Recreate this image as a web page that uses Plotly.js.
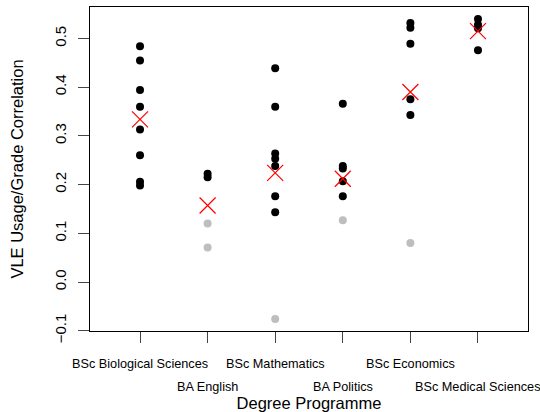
<!DOCTYPE html>
<html>
<head>
<meta charset="utf-8">
<script src="https://cdn.plot.ly/plotly-3.0.1.min.js"></script>
<style>html,body{margin:0;padding:0;background:#fff;}#chart{width:540px;height:412px;}</style>
</head>
<body>
<div id="chart"></div>
<script>
var programmes = ["BSc Biological Sciences","BA English","BSc Mathematics","BA Politics","BSc Economics","BSc Medical Sciences"];
// significant correlations (black)
var sigBio = [0.484,0.455,0.394,0.360,0.313,0.260,0.206,0.198];
var sigEnglish = [0.222,0.215];
var sigMaths = [0.439,0.360,0.264,0.253,0.238,0.176,0.143];
var sigPolitics = [0.366,0.238,0.233,0.207,0.176];
var sigEconomics = [0.532,0.522,0.489,0.375,0.343];
var sigMedical = [0.540,0.528,0.521,0.476];
// non-significant correlations (grey)
var nsBio = [];
var nsEnglish = [0.120,0.071];
var nsMaths = [-0.076];
var nsPolitics = [0.127];
var nsEconomics = [0.080];
var nsMedical = [];
// programme means (red crosses)
var means = [0.334,0.157,0.224,0.212,0.390,0.515];

var sigGroups = [sigBio,sigEnglish,sigMaths,sigPolitics,sigEconomics,sigMedical];
var nsGroups = [nsBio,nsEnglish,nsMaths,nsPolitics,nsEconomics,nsMedical];
function flatten(groups){
  var xs=[], ys=[];
  groups.forEach(function(g,i){ g.forEach(function(v){ xs.push(i+1); ys.push(v); }); });
  return {x:xs,y:ys};
}
var sig = flatten(sigGroups), ns = flatten(nsGroups);
var idx = programmes.map(function(_,i){return i+1;});
var font = "Liberation Sans, Arial, Helvetica, sans-serif";

var traces = [
  {x:ns.x, y:ns.y, type:"scatter", mode:"markers", marker:{color:"#bebebe", size:8}, hoverinfo:"y"},
  {x:sig.x, y:sig.y, type:"scatter", mode:"markers", marker:{color:"#000000", size:8}, hoverinfo:"y"},
  {x:idx, y:means, type:"scatter", mode:"markers", marker:{symbol:"x-thin-open", color:"#ff0000", size:16, line:{color:"#ff0000", width:1.2}}, hoverinfo:"y"}
];

var annotations = programmes.map(function(p,i){
  return {text:p, x:i+1, xref:"x", y:0, yref:"paper", yanchor:"middle", xanchor:"center",
          yshift: (i%2===0) ? -33 : -56, showarrow:false, font:{family:font, size:12.7, color:"#000"}};
});

var layout = {
  width:540, height:412,
  margin:{l:90, r:12, t:7, b:81, pad:0},
  paper_bgcolor:"#fff", plot_bgcolor:"#fff",
  showlegend:false,
  font:{family:font, color:"#000"},
  xaxis:{range:[0.26,6.74], tickvals:idx, ticktext:programmes.map(function(){return "";}), showticklabels:false,
         ticks:"outside", ticklen:11, tickcolor:"#444", tickwidth:1,
         showgrid:false, zeroline:false, showline:true, mirror:true, linecolor:"#000", linewidth:1,
         title:{text:"Degree Programme", font:{family:font, size:16.5, color:"#000"}, standoff:62}, automargin:false},
  yaxis:{range:[-0.1006,0.5646], tickvals:[-0.1,0,0.1,0.2,0.3,0.4,0.5], ticktext:["\u22120.1","0.0","0.1","0.2","0.3","0.4","0.5"],
         tickangle:-90, ticks:"outside", ticklen:11, tickcolor:"#444", tickwidth:1, ticklabelstandoff:6,
         tickfont:{family:font, size:15, color:"#000"},
         showgrid:false, zeroline:false, showline:true, mirror:true, linecolor:"#000", linewidth:1,
         title:{text:"VLE Usage/Grade Correlation", font:{family:font, size:16.5, color:"#000"}, standoff:24}, automargin:false},
  annotations:annotations
};
Plotly.newPlot("chart", traces, layout, {displayModeBar:false, staticPlot:true});
</script>
</body>
</html>
